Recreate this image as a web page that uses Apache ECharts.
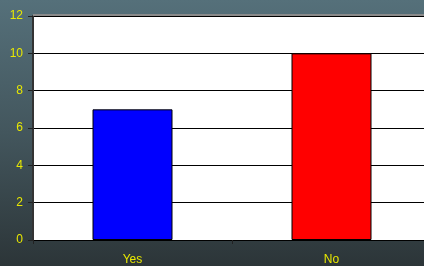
<!DOCTYPE html>
<html>
<head>
<meta charset="utf-8">
<script src="https://cdn.jsdelivr.net/npm/echarts@6/dist/echarts.min.js"></script>
<style>
html, body { margin: 0; padding: 0; }
#main { width: 424px; height: 266px; }
</style>
</head>
<body>
<div id="main"></div>
<script>
var categories = ['Yes', 'No'];
var values = [7, 10];
var barColors = ['#0000ff', '#ff0000'];
var yTicks = [0, 2, 4, 6, 8, 10, 12];

var myChart = echarts.init(document.getElementById('main'));
var option = {
    backgroundColor: {
        type: 'linear', x: 0, y: 0, x2: 0, y2: 1,
        colorStops: [
            { offset: 0, color: '#55707a' },
            { offset: 0.5, color: '#43565d' },
            { offset: 1, color: '#2c3538' }
        ]
    },
    animation: false,
    grid: {
        left: 33,
        right: -7,
        top: 16,
        bottom: 26,
        outerBoundsMode: 'none',
        show: true,
        backgroundColor: '#ffffff',
        borderWidth: 0
    },
    xAxis: {
        type: 'category',
        data: categories,
        axisLine: { show: false },
        axisTick: { show: true, alignWithLabel: false, length: 4, lineStyle: { color: '#222' } },
        axisLabel: { color: '#e8e800', fontFamily: 'Arial', fontSize: 12, margin: 14 }
    },
    yAxis: {
        type: 'value',
        min: 0,
        max: 12,
        interval: 2,
        axisLine: { show: true, lineStyle: { color: '#333', width: 2 } },
        axisTick: { show: true, length: 5, lineStyle: { color: '#222' } },
        axisLabel: { color: '#e8e800', fontFamily: 'Arial', fontSize: 12, margin: 10,
            formatter: function (v) { return yTicks.indexOf(v) >= 0 ? String(v) : ''; } },
        splitLine: { show: true, lineStyle: { color: '#000', width: 1 } }
    },
    series: [{
        type: 'bar',
        barWidth: 80,
        data: values.map(function (v, i) {
            return { value: v, itemStyle: { color: barColors[i] } };
        }),
        itemStyle: { borderColor: '#000', borderWidth: 1 }
    }],
    graphic: [{
        type: 'rect',
        shape: { x: 33, y: 14, width: 391, height: 2 },
        style: { fill: '#8a8a8a' },
        z: 10
    }]
};
myChart.setOption(option);
</script>
</body>
</html>
